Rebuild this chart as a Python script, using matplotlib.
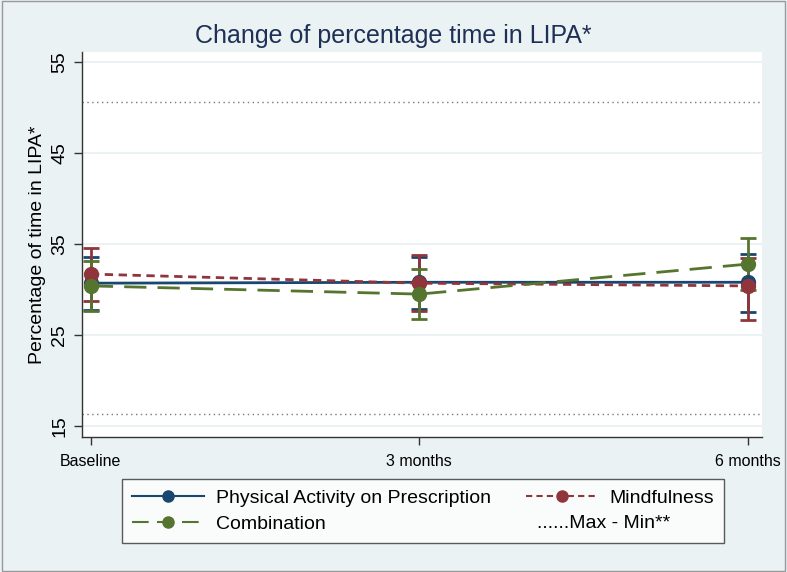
import matplotlib.pyplot as plt
from matplotlib.lines import Line2D

# Data
timepoints = ["Baseline", "3 months", "6 months"]
pap_mean = [30.7, 30.8, 30.8]
pap_low = [27.7, 27.9, 27.5]
pap_high = [33.6, 33.6, 33.9]
mind_mean = [31.7, 30.7, 30.4]
mind_low = [28.7, 27.6, 26.6]
mind_high = [34.6, 33.8, 33.5]
comb_mean = [30.4, 29.5, 32.8]
comb_low = [27.6, 26.8, 29.9]
comb_high = [33.1, 32.3, 35.7]
max_line = 50.6
min_line = 16.3
yticks = [15, 25, 35, 45, 55]

bg = "#EAF2F3"
blue = "#1a476f"
red = "#90353b"
green = "#55752f"
title_col = "#1f3056"

plt.rcParams['font.family'] = ['Liberation Sans', 'DejaVu Sans']

fig = plt.figure(figsize=(7.87, 5.72), dpi=100, facecolor=bg)
ax = fig.add_axes([82 / 787, 1 - 437 / 572, 680 / 787, 385 / 572])
ax.set_facecolor("white")

x = list(range(len(timepoints)))

ax.axhline(max_line, color="#777777", lw=1, ls=(0, (1, 2.5)), zorder=1)
ax.axhline(min_line, color="#777777", lw=1, ls=(0, (1, 2.5)), zorder=1)

series = [
    (pap_mean, pap_low, pap_high, blue, "-"),
    (mind_mean, mind_low, mind_high, red, (0, (3, 2))),
    (comb_mean, comb_low, comb_high, green, (0, (8, 4))),
]
for mean, low, high, col, ls in series:
    err = [[m - l for m, l in zip(mean, low)], [h - m for m, h in zip(mean, high)]]
    ax.errorbar(x, mean, yerr=err, fmt="none", ecolor=col, elinewidth=2,
                capsize=6, capthick=2, zorder=3)
    ax.plot(x, mean, color=col, lw=2, ls=ls, marker="o", ms=10, zorder=4)

ax.set_xlim(-0.027, 2.043)
ax.set_ylim(13.8, 56.1)
ax.set_yticks(yticks)
ax.set_yticklabels([str(t) for t in yticks], rotation=90, va="center", fontsize=14)
ax.set_xticks(x)
ax.set_xticklabels(timepoints, fontsize=11.5,
                   family=['Liberation Sans Narrow', 'Liberation Sans'])
ax.tick_params(axis="both", length=6, width=1, color="#333333", pad=4)
ax.tick_params(axis="x", pad=6)
ax.yaxis.grid(True, color=bg, lw=1.5)
ax.set_axisbelow(True)
for s in ["top", "right"]:
    ax.spines[s].set_visible(False)
for s in ["left", "bottom"]:
    ax.spines[s].set_color("#333333")
    ax.spines[s].set_linewidth(1)

ax.set_ylabel("Percentage of time in LIPA*", fontsize=14)
fig.text(0.5, 1 - 36 / 572, "Change of percentage time in LIPA*",
         ha="center", va="center", fontsize=18, color=title_col)

handles = [
    Line2D([], [], color=blue, lw=1.5, marker="o", ms=8),
    Line2D([], [], color=green, lw=1.5, ls=(0, (8, 4)), marker="o", ms=8),
    Line2D([], [], color=red, lw=1.5, ls=(0, (3, 2)), marker="o", ms=8),
    Line2D([], [], color="none"),
]
labels = ["Physical Activity on Prescription", "Combination",
          "Mindfulness", " "]
leg = fig.legend(handles, labels, ncol=2, loc="center",
                 bbox_to_anchor=(423 / 787, 1 - 511 / 572), fontsize=14,
                 frameon=True, fancybox=False, edgecolor="#333333",
                 handlelength=3.7, handletextpad=0.6, columnspacing=1.8,
                 borderpad=0.5, labelspacing=0.45)
leg.get_frame().set_linewidth(1)
fig.text(537 / 787, 1 - 523 / 572, "......Max - Min**", ha="left", va="center",
         fontsize=14, zorder=10)

fig.patches.append(plt.Rectangle((0.002, 0.002), 0.996, 0.996, transform=fig.transFigure,
                                 fill=False, edgecolor="#999999", lw=1))

fig.savefig("out.png", dpi=100, facecolor=bg)
